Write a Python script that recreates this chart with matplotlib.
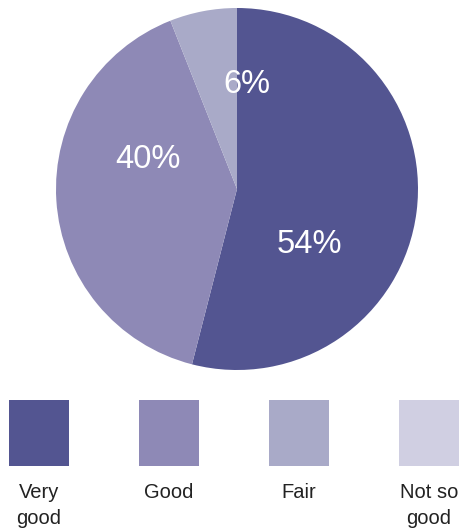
import matplotlib
matplotlib.use("Agg")
import matplotlib.pyplot as plt
from matplotlib.patches import Rectangle

plt.rcParams['font.family'] = ['Liberation Sans', 'DejaVu Sans']

categories = ["Very\ngood", "Good", "Fair", "Not so\ngood"]
shares = [54, 40, 6, 0]
colors = ["#535591", "#8e89b6", "#a9aac8", "#d0cfe2"]

# percentage label anchors (pie radius units, text baseline)
label_pos = [(0.400, -0.354), (-0.492, 0.116), (0.055, 0.530), None]

W, H = 462, 532
fig = plt.figure(figsize=(W / 100, H / 100), dpi=100)

# pie centred at (237, 189) px with radius 181 px
cx, cy, r = 237, 189, 181
ax = fig.add_axes([(cx - r) / W, (H - cy - r) / H, 2 * r / W, 2 * r / H])
ax.pie(shares, colors=colors, startangle=90, counterclock=False, radius=1,
       wedgeprops=dict(linewidth=0))
ax.set_xlim(-1, 1); ax.set_ylim(-1, 1); ax.set_aspect('equal'); ax.axis('off')
for v, pos in zip(shares, label_pos):
    if v > 0 and pos is not None:
        ax.text(pos[0], pos[1], f'{v}%', ha='center', va='baseline',
                fontsize=23.5, color='white')

# legend swatches and labels along the bottom, in pixel coordinates
lg = fig.add_axes([0, 0, 1, 1], zorder=-1)
lg.set_xlim(0, W); lg.set_ylim(H, 0); lg.axis('off')
for i, (lab, col) in enumerate(zip(categories, colors)):
    x0 = 9 + i * 130
    lg.add_patch(Rectangle((x0, 400), 60, 66, facecolor=col, edgecolor='none'))
    for j, line in enumerate(lab.split('\n')):
        lg.text(x0 + 30, 498 + 26 * j, line, ha='center', va='baseline',
                fontsize=14.5, color='#222222')

fig.savefig('out.png', dpi=100)
